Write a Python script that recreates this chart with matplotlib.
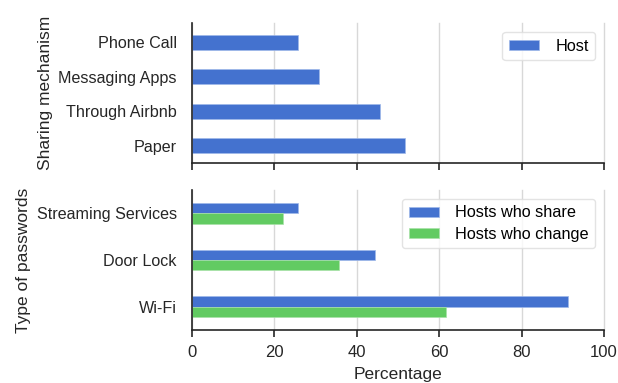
import numpy as np
import matplotlib
matplotlib.use("Agg")
import matplotlib.pyplot as plt

# sharing mechanism (top panel)
mech_labels = ["Phone Call", "Messaging Apps", "Through Airbnb", "Paper"]
mech_host = [25.7, 30.8, 45.6, 51.7]

# password types (bottom panel)
pw_labels = ["Streaming Services", "Door Lock", "Wi-Fi"]
pw_share = [25.7, 44.3, 91.3]
pw_change = [22.1, 35.7, 61.7]

BLUE = "#4472cf"
GREEN = "#62cb62"
DARK = "#262626"

plt.rcParams["font.family"] = ["Liberation Sans", "DejaVu Sans"]
plt.rcParams["font.size"] = 12

fig = plt.figure(figsize=(6.18, 3.83), dpi=100)
ax1 = fig.add_axes([0.3107, 0.574, 0.6666, 0.3655])
ax2 = fig.add_axes([0.3107, 0.1384, 0.6666, 0.3655])


def style(ax):
    ax.set_xlim(0, 100)
    ax.set_xticks([0, 20, 40, 60, 80, 100])
    ax.grid(axis="x", color="#d8d8d8", linewidth=1.0)
    ax.set_axisbelow(True)
    # keep the gridline at x=100 whole instead of half-clipped at the edge
    for line in ax.get_xgridlines():
        line.set_clip_on(False)
    for s in ["top", "right"]:
        ax.spines[s].set_visible(False)
    for s in ["left", "bottom"]:
        ax.spines[s].set_color(DARK)
        ax.spines[s].set_linewidth(1.2)
    ax.tick_params(axis="x", length=5, width=1.2, color=DARK, labelcolor=DARK,
                   labelsize=12, pad=6)
    ax.tick_params(axis="y", length=0, labelcolor=DARK, labelsize=11.6, pad=11)


def add_legend(ax):
    leg = ax.legend(loc="upper right", fontsize=11.7, borderpad=0.4,
                    handlelength=1.85, handleheight=0.6, handletextpad=1.0,
                    labelspacing=0.4, borderaxespad=0.55,
                    bbox_to_anchor=(1.0, 1.0))
    leg.get_frame().set_edgecolor("#dddddd")
    return leg


# top: one bar per mechanism, first label at the top
y1 = np.arange(len(mech_labels))
ax1.barh(y1, mech_host, height=0.43, color=BLUE, edgecolor="#9fb8ea",
         linewidth=0.5, label="Host")
ax1.set_yticks(y1)
ax1.set_yticklabels(mech_labels)
ax1.set_ylim(len(mech_labels) - 0.5, -0.55)
style(ax1)
ax1.tick_params(axis="x", labelbottom=False)
ax1.set_ylabel("Sharing mechanism", fontsize=12.5, color=DARK)
add_legend(ax1)

# bottom: paired bars, share on top of change
y2 = np.arange(len(pw_labels))
h = 0.22
ax2.barh(y2 - h / 2, pw_share, height=h, color=BLUE, edgecolor="#9fb8ea",
         linewidth=0.5, label="Hosts who share")
ax2.barh(y2 + h / 2, pw_change, height=h, color=GREEN, edgecolor="#a8e2a8",
         linewidth=0.5, label="Hosts who change")
ax2.set_yticks(y2)
ax2.set_yticklabels(pw_labels)
ax2.set_ylim(len(pw_labels) - 0.5, -0.5)
style(ax2)
ax2.set_ylabel("Type of passwords", fontsize=12.5, color=DARK)
ax2.set_xlabel("Percentage", fontsize=12.5, color=DARK, labelpad=5)
add_legend(ax2)

fig.savefig("out.png", dpi=100, facecolor="white")
